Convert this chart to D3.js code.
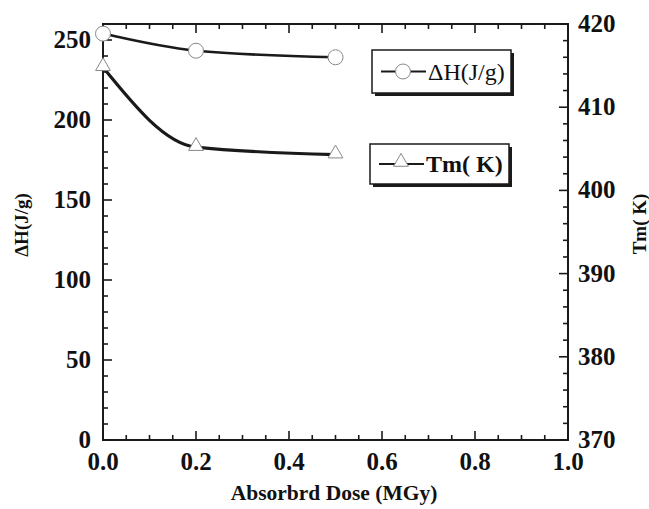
<!DOCTYPE html>
<html><head><meta charset="utf-8">
<script src="https://cdn.jsdelivr.net/npm/d3@7"></script>
<style>body{margin:0;background:#fff}svg{display:block}text{font-family:"Liberation Serif","Times New Roman",serif;fill:#111}</style>
</head><body><svg id="c" width="649" height="509"></svg>
<script>
const dose = [0.0, 0.2, 0.5];
const deltaH = [254, 243.3, 239.2];
const tm = [414.8, 405.2, 404.3];
const xTicks = [0.0, 0.2, 0.4, 0.6, 0.8, 1.0];
const leftTicks = [0, 50, 100, 150, 200, 250];
const rightTicks = [370, 380, 390, 400, 410, 420];

const svg = d3.select("#c");
const L = 103, R = 568, T = 24, B = 440;
const x = d3.scaleLinear().domain([0, 1]).range([L, R]);
const yL = d3.scaleLinear().domain([0, 260]).range([B, T]);
const yR = d3.scaleLinear().domain([370, 420]).range([B, T]);
const ink = "#1a1a1a";

// frame
svg.append("rect").attr("x", L).attr("y", T).attr("width", R - L).attr("height", B - T)
  .attr("fill", "none").attr("stroke", ink).attr("stroke-width", 2);

function tickSet(step, lo, hi) { return d3.range(lo, hi + step / 2, step).map(v => +v.toFixed(6)); }
const isMajor = (v, m) => Math.abs(v / m - Math.round(v / m)) < 1e-6;

// x ticks bottom & top
tickSet(0.05, 0, 1).forEach(v => {
  const len = isMajor(v, 0.2) ? 9 : 5;
  svg.append("line").attr("x1", x(v)).attr("x2", x(v)).attr("y1", B).attr("y2", B - len).attr("stroke", ink).attr("stroke-width", 1.6);
  svg.append("line").attr("x1", x(v)).attr("x2", x(v)).attr("y1", T).attr("y2", T + len).attr("stroke", ink).attr("stroke-width", 1.6);
});
// left ticks
tickSet(10, 0, 260).forEach(v => {
  const len = isMajor(v, 50) ? 9 : 5;
  svg.append("line").attr("x1", L).attr("x2", L + len).attr("y1", yL(v)).attr("y2", yL(v)).attr("stroke", ink).attr("stroke-width", 1.6);
});
// right ticks
tickSet(2, 370, 420).forEach(v => {
  const len = isMajor(v, 10) ? 9 : 5;
  svg.append("line").attr("x1", R).attr("x2", R - len).attr("y1", yR(v)).attr("y2", yR(v)).attr("stroke", ink).attr("stroke-width", 1.6);
});

// tick labels
svg.selectAll(".xl").data(xTicks).enter().append("text")
  .attr("x", d => x(d)).attr("y", 470).attr("text-anchor", "middle")
  .attr("font-size", 25).attr("font-weight", "bold").text(d => d.toFixed(1));
svg.selectAll(".ll").data(leftTicks).enter().append("text")
  .attr("x", 91).attr("y", d => yL(d) + 8).attr("text-anchor", "end")
  .attr("font-size", 25).attr("font-weight", "bold").text(d => d);
svg.selectAll(".rl").data(rightTicks).enter().append("text")
  .attr("x", 578).attr("y", d => yR(d) + 8).attr("text-anchor", "start")
  .attr("font-size", 25).attr("font-weight", "bold").text(d => d);

// axis titles
svg.append("text").attr("x", 334).attr("y", 500).attr("text-anchor", "middle")
  .attr("font-size", 21.5).attr("font-weight", "bold").text("Absorbrd Dose (MGy)");
svg.append("text").attr("transform", "translate(28,225) rotate(-90)").attr("text-anchor", "middle")
  .attr("font-size", 19).attr("font-weight", "bold").text("ΔH(J/g)");
svg.append("text").attr("transform", "translate(646,224) rotate(-90)").attr("text-anchor", "middle")
  .attr("font-size", 19).attr("font-weight", "bold").text("Tm( K)");

// lines
const lineH = d3.line().x((d, i) => x(dose[i])).y(d => yL(d)).curve(d3.curveMonotoneX);
const lineT = d3.line().x((d, i) => x(dose[i])).y(d => yR(d)).curve(d3.curveMonotoneX);
svg.append("path").attr("d", lineH(deltaH)).attr("fill", "none").attr("stroke", ink).attr("stroke-width", 2.6);
svg.append("path").attr("d", lineT(tm)).attr("fill", "none").attr("stroke", ink).attr("stroke-width", 3.2);

// markers
const tri = d3.symbol().type(d3.symbolTriangle).size(95);
svg.selectAll(".cm").data(deltaH).enter().append("circle")
  .attr("cx", (d, i) => x(dose[i])).attr("cy", d => yL(d)).attr("r", 7.5)
  .attr("fill", "#fff").attr("stroke", "#888").attr("stroke-width", 1);
svg.selectAll(".tm").data(tm).enter().append("path")
  .attr("d", tri).attr("transform", (d, i) => `translate(${x(dose[i])},${yR(d) - 1})`)
  .attr("fill", "#fff").attr("stroke", "#888").attr("stroke-width", 1);

// legends
function legend(bx, by, w, h, label, bold, marker) {
  svg.append("rect").attr("x", bx + 3).attr("y", by + 3).attr("width", w).attr("height", h).attr("fill", ink);
  svg.append("rect").attr("x", bx).attr("y", by).attr("width", w).attr("height", h)
    .attr("fill", "#fff").attr("stroke", ink).attr("stroke-width", 1.5);
  const cy = by + h / 2;
  svg.append("line").attr("x1", bx + 9).attr("x2", bx + 54).attr("y1", cy).attr("y2", cy).attr("stroke", ink).attr("stroke-width", 2);
  if (marker === "circle") {
    svg.append("circle").attr("cx", bx + 31).attr("cy", cy).attr("r", 7.5).attr("fill", "#fff").attr("stroke", "#888");
  } else {
    svg.append("path").attr("d", tri).attr("transform", `translate(${bx + 31},${cy - 2})`).attr("fill", "#fff").attr("stroke", "#888");
  }
  svg.append("text").attr("x", bx + 56).attr("y", cy + 8).attr("font-size", 24)
    .attr("font-weight", bold ? "bold" : "normal").text(label);
}
legend(372, 50, 139, 43, "ΔH(J/g)", false, "circle");
legend(370, 144, 139, 40, "Tm( K)", true, "triangle");
</script></body></html>
